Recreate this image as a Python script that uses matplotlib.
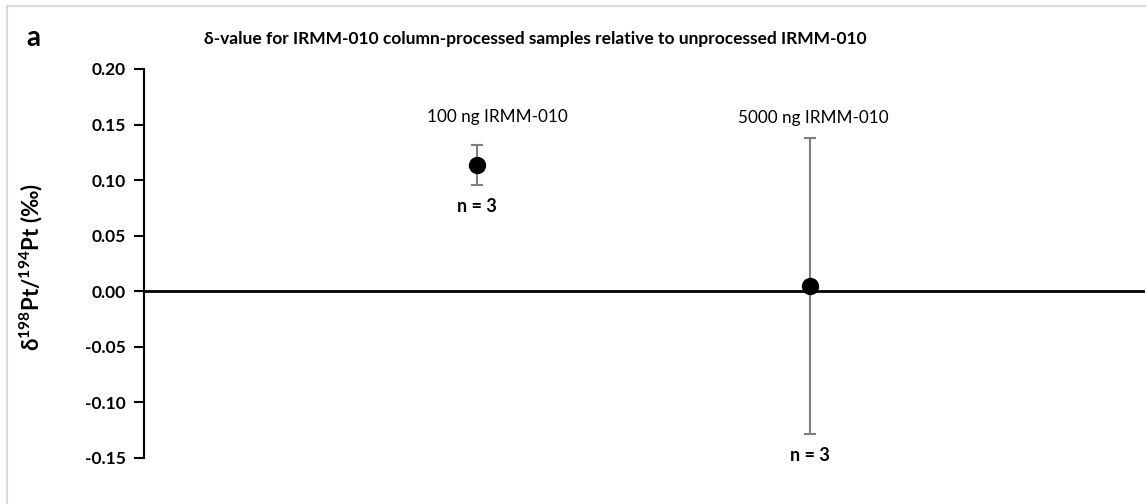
import numpy as np
import matplotlib.pyplot as plt
from matplotlib.patches import Rectangle

# ---- data ----
samples = ['100 ng IRMM-010', '5000 ng IRMM-010']
positions = [1, 2]
delta = [0.114, 0.005]
err = [0.018, 0.133]
n_runs = [3, 3]

plt.rcParams['font.family'] = ['Lato', 'DejaVu Sans']
plt.rcParams['mathtext.fontset'] = 'custom'
plt.rcParams['mathtext.rm'] = 'Lato'
plt.rcParams['mathtext.bf'] = 'Lato:bold'

fig = plt.figure(figsize=(11.46, 5.04), dpi=100)
ax = fig.add_axes([0.1257, 0.0913, 0.8717, 0.7718])

# gray chart frame
fig.patches.append(Rectangle((0.006, -0.01), 1.2, 0.998, transform=fig.transFigure,
                             fill=False, edgecolor='#d9d9d9', linewidth=1.5))

ax.errorbar(positions, delta, yerr=err, fmt='o', color='black', markersize=11.5,
            ecolor='#7f7f7f', elinewidth=1.5, capsize=4, capthick=1.5, zorder=3)

for x, y, e, lab, n in zip(positions, delta, err, samples, n_runs):
    ax.text(x + 0.06 if e < 0.05 else x + 0.01, 0.157 if e < 0.05 else 0.156, lab,
            ha='center', va='center', fontsize=12.3)
    ax.text(x, y - e - 0.0195, f'n = {n}', ha='center', va='center',
            fontsize=13, fontweight='bold')

ax.set_xlim(0, 3)
ax.set_ylim(-0.15, 0.20)
ax.set_yticks(np.arange(-0.15, 0.201, 0.05))
ax.set_yticklabels([f'{v:.2f}' for v in np.arange(-0.15, 0.201, 0.05)],
                   fontsize=12.5, fontweight='bold')
ax.set_xticks([])

ax.spines['top'].set_visible(False)
ax.spines['right'].set_visible(False)
ax.spines['bottom'].set_position(('data', 0))
ax.spines['bottom'].set_linewidth(2)
ax.spines['left'].set_linewidth(1.5)
ax.tick_params(axis='y', direction='out', length=7, width=1.5, pad=6)

ax.set_ylabel(r'δ$^{\mathbf{198}}$Pt/$^{\mathbf{194}}$Pt (‰)', fontsize=16, fontweight='bold')
ax.yaxis.set_label_coords(-0.099, 0.49)

fig.text(0.467, 0.922, 'δ-value for IRMM-010 column-processed samples relative to unprocessed IRMM-010',
         ha='center', va='center', fontsize=12.5, fontweight='bold')
fig.text(0.029, 0.924, 'a', ha='center', va='center', fontsize=20, fontweight='bold')

fig.savefig('out.png', dpi=100)
